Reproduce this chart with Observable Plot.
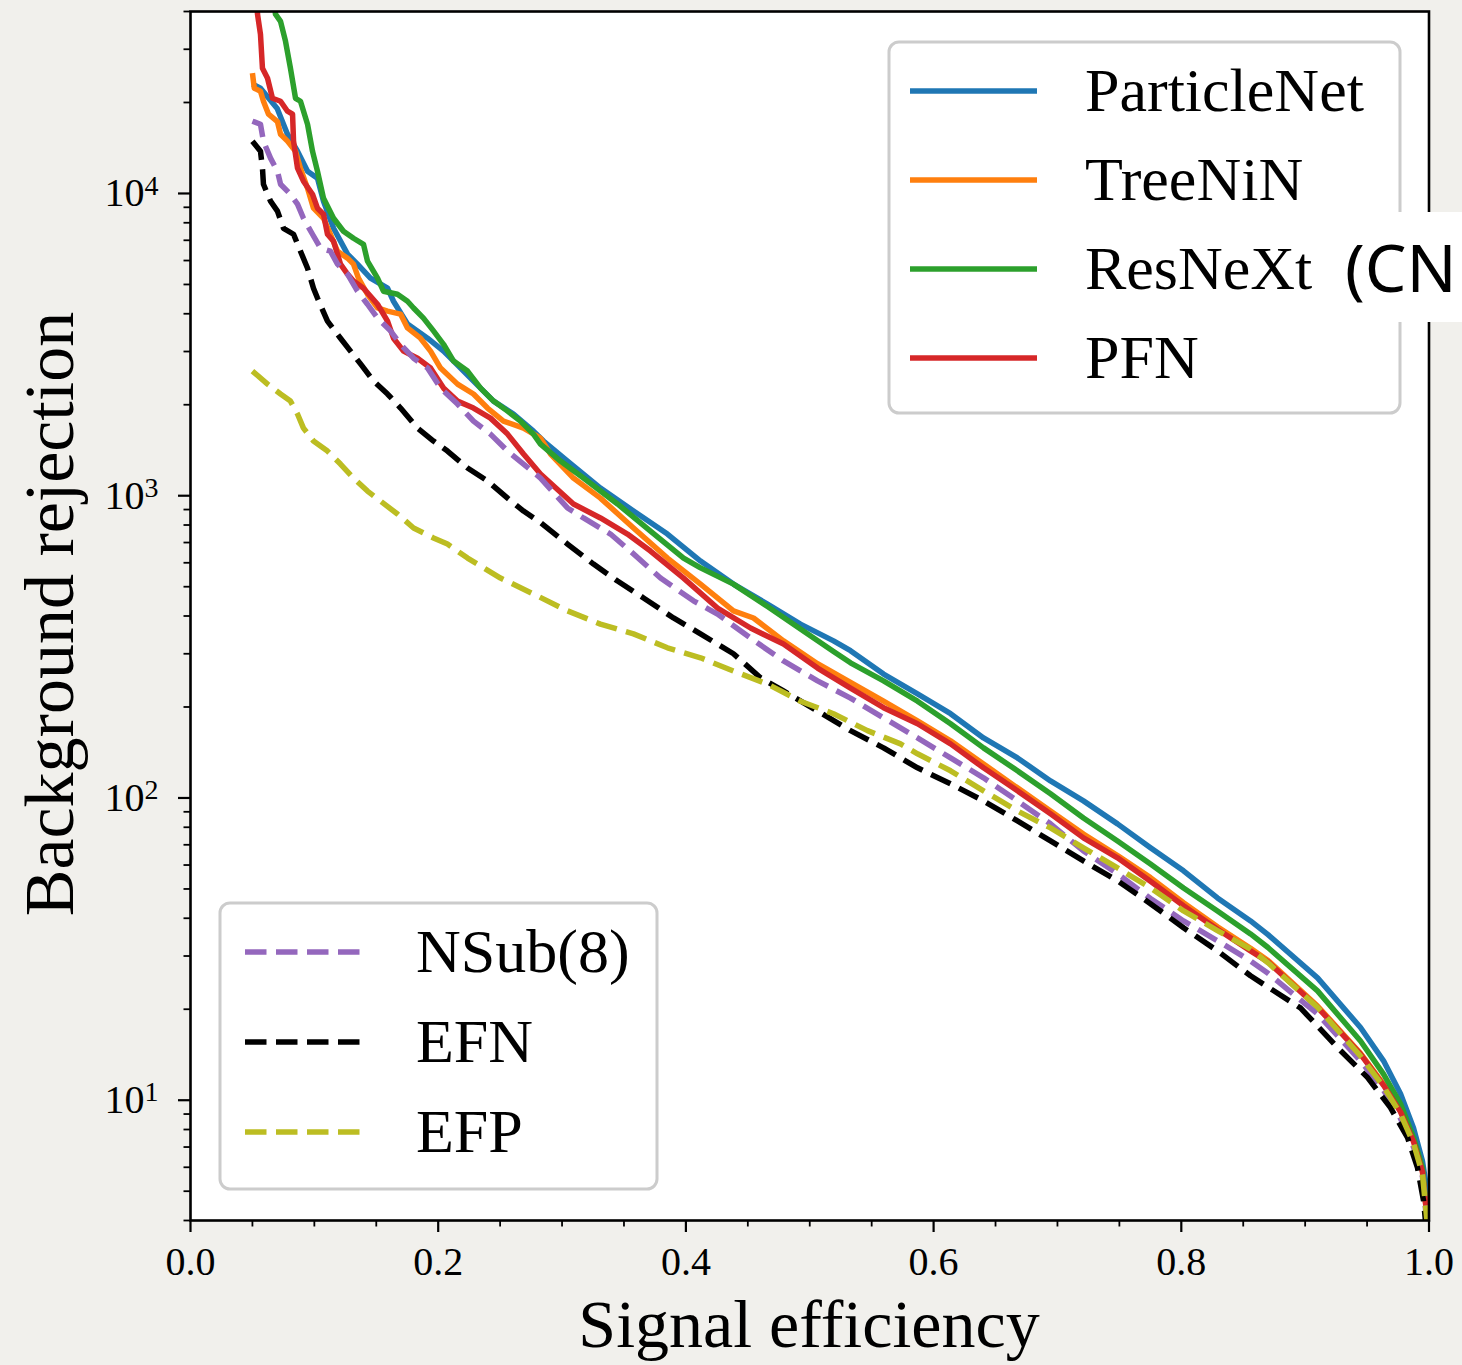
<!DOCTYPE html>
<html>
<head>
<meta charset="utf-8">
<script src="https://cdn.jsdelivr.net/npm/d3@7"></script>
<script src="https://cdn.jsdelivr.net/npm/@observablehq/plot@0.6"></script>
<style>
  html, body { margin: 0; padding: 0; background: #f1f0ec; }
  #chart { position: relative; width: 1462px; height: 1365px; }
  #chart svg { display: block; }
</style>
</head>
<body>
<div id="chart"></div>
<script>
// ---- Data: [signal efficiency, background rejection] ----
const particleNet = [[0.05,23000],[0.0565,22300],[0.070,19100],[0.0783,15700],[0.0864,13800],[0.0945,11850],[0.1025,11240],[0.1074,9430],[0.1155,7670],[0.1268,6300],[0.1348,5840],[0.1453,5250],[0.1591,4860],[0.1639,4400],[0.1752,3700],[0.1914,3320],[0.2043,3010],[0.2124,2790],[0.2285,2395],[0.2447,2056],[0.2608,1863],[0.2769,1636],[0.285,1517],[0.3044,1302],[0.331,1060],[0.3577,890],[0.3851,747],[0.4118,608],[0.4384,510],[0.4659,438],[0.4925,376],[0.5192,331],[0.5329,307],[0.5596,257],[0.587,221],[0.6137,190],[0.6403,158],[0.6677,135.7],[0.6944,113.9],[0.721,97.8],[0.7485,82.1],[0.7751,68.4],[0.8018,57.4],[0.8292,46.7],[0.8559,39.2],[0.87,35.3],[0.91,25.4],[0.9447,17.4],[0.9633,13.5],[0.977,10.5],[0.9875,8.1],[0.9947,6.3],[0.9988,4.9],[1.0,3.5]];
const treeNiN = [[0.05,25000],[0.0515,22300],[0.0565,21800],[0.0589,20200],[0.063,18300],[0.0702,17300],[0.0727,15700],[0.0783,14900],[0.0848,13800],[0.0888,12100],[0.0945,10400],[0.0993,8940],[0.1074,8280],[0.113,7330],[0.1187,6440],[0.1268,6110],[0.1316,5840],[0.1356,5250],[0.1429,4640],[0.151,4180],[0.1591,4080],[0.1696,3990],[0.1752,3590],[0.1857,3320],[0.1938,3010],[0.2019,2645],[0.2156,2340],[0.2285,2170],[0.2398,1950],[0.2527,1766],[0.2689,1674],[0.2826,1551],[0.2907,1374],[0.3092,1144],[0.331,982],[0.3577,782],[0.3851,622],[0.4118,510],[0.4384,416],[0.4546,394],[0.4788,331],[0.5063,278],[0.5329,241],[0.5596,209],[0.587,180],[0.6137,154.5],[0.6403,129.6],[0.6677,108],[0.6944,90.6],[0.721,76.0],[0.7485,64.5],[0.7751,54.5],[0.8018,45],[0.8292,37.5],[0.8559,31.8],[0.87,29],[0.91,20.5],[0.9447,14.3],[0.9633,11.3],[0.977,9.23],[0.9875,7.35],[0.9947,5.85],[1.0,3.5]];
const resNeXt = [[0.06,80000],[0.0686,39200],[0.0727,37100],[0.0767,31900],[0.0807,25960],[0.0848,20650],[0.0888,20190],[0.0945,16950],[0.0985,13800],[0.1025,11850],[0.1074,9640],[0.1155,8280],[0.1235,7500],[0.1316,7110],[0.1397,6790],[0.1429,5970],[0.151,5250],[0.1558,4750],[0.1671,4640],[0.1752,4400],[0.1801,4180],[0.1881,3870],[0.1962,3510],[0.2043,3170],[0.2124,2790],[0.2237,2585],[0.2342,2270],[0.2447,2056],[0.256,1905],[0.2664,1766],[0.2769,1599],[0.2826,1482],[0.2987,1302],[0.3173,1144],[0.3448,939],[0.3714,764],[0.3981,622],[0.4118,577],[0.4384,510],[0.4659,430],[0.4925,362],[0.5192,305],[0.5329,280],[0.5596,244],[0.587,209],[0.6137,176],[0.6403,146.5],[0.6677,123],[0.6944,103.2],[0.721,85.9],[0.7485,72.1],[0.7751,60.5],[0.8018,50.4],[0.8292,42.3],[0.8559,35.5],[0.87,32],[0.91,23.0],[0.9447,15.7],[0.9633,12.2],[0.977,9.73],[0.9875,7.52],[0.9947,5.98],[1.0,3.5]];
const pfn = [[0.051,70000],[0.0541,39200],[0.0565,33600],[0.0581,25960],[0.0622,24060],[0.0662,20650],[0.0727,20190],[0.0783,18710],[0.0824,18290],[0.0832,14890],[0.0864,12130],[0.0912,10980],[0.0985,9940],[0.1025,8940],[0.1074,8540],[0.1106,7330],[0.1155,6950],[0.1211,5840],[0.1268,5410],[0.1316,5130],[0.1397,4860],[0.151,4300],[0.1591,3780],[0.1639,3320],[0.172,3010],[0.1833,2850],[0.1938,2645],[0.2043,2270],[0.2156,2056],[0.2285,1950],[0.2422,1806],[0.256,1599],[0.2689,1374],[0.2826,1180],[0.3092,939],[0.331,844],[0.3528,747],[0.3714,656],[0.3981,534],[0.4255,425],[0.4522,365],[0.4788,323],[0.5063,269],[0.5329,231],[0.5596,199],[0.587,176],[0.6137,151],[0.6403,125.8],[0.6677,105.6],[0.6944,88.6],[0.721,73.8],[0.7485,63.4],[0.7751,53],[0.8018,44],[0.8292,36.8],[0.8559,31.2],[0.87,28.7],[0.91,20.3],[0.9447,14.2],[0.9633,11.2],[0.977,9.15],[0.9875,7.3],[0.9947,5.8],[1.0,3.5]];
const nsub8 = [[0.05,17340],[0.0565,16950],[0.0589,14890],[0.0646,13090],[0.0702,11850],[0.0727,10730],[0.0807,9940],[0.0864,9220],[0.0912,8280],[0.0985,7330],[0.105,6590],[0.113,6440],[0.1187,5840],[0.1268,5410],[0.1348,4750],[0.1429,4300],[0.151,3870],[0.1615,3510],[0.1696,3170],[0.1801,2850],[0.1914,2645],[0.2019,2270],[0.2156,2010],[0.2285,1766],[0.2422,1599],[0.256,1405],[0.2689,1273],[0.2826,1144],[0.3044,911],[0.3173,844],[0.3391,747],[0.3577,642],[0.3795,534],[0.4061,449],[0.4255,406],[0.4522,338],[0.4788,284],[0.5063,244],[0.5329,214],[0.5596,184],[0.587,158],[0.6137,135.7],[0.6403,116.6],[0.6677,97.8],[0.6944,82.1],[0.721,66.8],[0.7485,56.1],[0.7751,46.5],[0.8018,39.2],[0.8292,33.7],[0.8559,28.9],[0.87,26.3],[0.91,19.3],[0.9447,13.5],[0.9633,10.8],[0.977,8.7],[0.9875,7.0],[0.9947,5.6],[1.0,3.3]];
const efn = [[0.05,14890],[0.0565,13800],[0.0581,12130],[0.0589,10730],[0.0646,9430],[0.0702,8740],[0.0751,7670],[0.0832,7330],[0.0888,6440],[0.0945,5660],[0.0993,4860],[0.1025,4510],[0.1106,3780],[0.1211,3320],[0.1292,3010],[0.1373,2730],[0.1478,2395],[0.1591,2170],[0.1696,1950],[0.1833,1674],[0.1962,1517],[0.2075,1405],[0.2237,1235],[0.2398,1119],[0.256,982],[0.2689,890],[0.2826,815],[0.3044,692],[0.3254,594],[0.3448,522],[0.3658,459],[0.39,394],[0.4118,349],[0.4384,300],[0.4602,250],[0.4788,226],[0.5063,194],[0.5329,167],[0.5596,146.5],[0.587,125.8],[0.6137,111.4],[0.6403,97.8],[0.6677,84.0],[0.6944,72.1],[0.721,61.9],[0.7485,53.2],[0.7751,44.7],[0.8018,37.2],[0.8292,31.2],[0.8559,25.8],[0.8962,20.2],[0.9285,14.6],[0.9503,11.9],[0.9689,9.45],[0.9827,7.52],[0.9907,5.98],[0.9956,4.65],[1.0,3.0]];
const efp = [[0.05,2585],[0.0622,2340],[0.0727,2170],[0.0807,2056],[0.0864,1863],[0.0912,1674],[0.0993,1517],[0.1106,1405],[0.1211,1273],[0.1316,1144],[0.1429,1036],[0.1534,960],[0.1671,870],[0.1801,782],[0.1962,725],[0.2075,692],[0.2237,622],[0.2317,594],[0.2503,534],[0.2769,473],[0.3044,416],[0.331,376],[0.3577,349],[0.3851,314],[0.4118,291],[0.4384,263],[0.4659,238],[0.4925,209],[0.5192,190],[0.5466,167],[0.5733,151],[0.587,140],[0.6137,123],[0.6403,105.6],[0.6677,90.6],[0.6944,79.6],[0.721,68.4],[0.7485,58.7],[0.7751,50.4],[0.8018,42.3],[0.8292,36.4],[0.8559,31.6],[0.87,28.5],[0.91,20.3],[0.9447,14.0],[0.9633,11.1],[0.977,9.0],[0.9875,7.2],[0.9947,5.7],[1.0,3.4]];

const modelNames = ["ParticleNet", "TreeNiN", "ResNeXt", "PFN", "NSub(8)", "EFN", "EFP"];
const modelColors = ["#1f77b4", "#ff7f0e", "#2ca02c", "#d62728", "#9467bd", "#000000", "#bcbd22"];
const modelDashed = [false, false, false, false, true, true, true];
const modelData = [particleNet, treeNiN, resNeXt, pfn, nsub8, efn, efp];

const xMajorTicks = [0, 0.2, 0.4, 0.6, 0.8, 1.0];
const xMinorTicks = [0.05, 0.1, 0.15, 0.25, 0.3, 0.35, 0.45, 0.5, 0.55, 0.65, 0.7, 0.75, 0.85, 0.9, 0.95];
const yMajorTicks = [10, 100, 1000, 10000];
const yMinorTicks = [4, 5, 6, 7, 8, 9, 20, 30, 40, 50, 60, 70, 80, 90, 200, 300, 400, 500, 600, 700, 800, 900,
                     2000, 3000, 4000, 5000, 6000, 7000, 8000, 9000, 20000, 30000, 40000];

// ---- Build tables ----
const series = modelNames.map((name, i) => ({
  name, color: modelColors[i], dashed: modelDashed[i],
  rows: modelData[i].map(([e, r]) => ({model: name, eff: e, rej: r}))
}));

const DASH = "21.5,9.5";
const LW = 5.5;
const serif = "'Liberation Serif', 'DejaVu Serif', serif";

const lineMarks = series.map(s => Plot.line(s.rows, {
  x: "eff", y: "rej", stroke: s.color, strokeWidth: LW,
  strokeDasharray: s.dashed ? DASH : null,
  strokeLinejoin: "round", strokeLinecap: "butt", clip: true
}));

const chart = Plot.plot({
  width: 1462, height: 1365,
  marginLeft: 190, marginRight: 33.5, marginTop: 11, marginBottom: 145,
  style: {background: "transparent", fontFamily: serif, fontSize: "40px", color: "black", overflow: "visible"},
  x: {domain: [0, 1]},
  y: {type: "log", domain: [4, 40000]},
  marks: [
    Plot.frame({fill: "white", stroke: null}),
    ...lineMarks,
    Plot.axisX({ticks: xMajorTicks, tickSize: 12, tickPadding: 14, strokeWidth: 2.2,
                tickFormat: d => d.toFixed(1), label: null}),
    Plot.axisX({ticks: xMinorTicks, tickSize: 6.5, strokeWidth: 1.8, tickFormat: () => "", label: null}),
    Plot.axisY({ticks: yMajorTicks, tickSize: 12, tickPadding: 20, strokeWidth: 2.2,
                tickFormat: d => `10^${Math.round(Math.log10(d))}`, label: null}),
    Plot.axisY({ticks: yMinorTicks, tickSize: 6.5, strokeWidth: 1.8, tickFormat: () => "", label: null}),
    Plot.frame({stroke: "black", strokeWidth: 2.6})
  ]
});

document.getElementById("chart").appendChild(chart);
const svg = d3.select(chart);

// superscript exponents on the y tick labels
svg.selectAll("text").each(function () {
  const t = d3.select(this);
  const m = /^10\^(\d)$/.exec(t.text());
  if (m) {
    t.text("10");
    t.append("tspan").attr("dy", "-0.42em").attr("font-size", "0.7em").text(m[1]);
  }
});

// ---- Legends ----
function legend(items, box, lineX0, lineX1, textX, y0, step) {
  const g = svg.append("g").attr("text-anchor", "start");
  g.append("rect").attr("x", box[0]).attr("y", box[1]).attr("width", box[2]).attr("height", box[3])
    .attr("rx", 10).attr("fill", "white").attr("fill-opacity", 0.9)
    .attr("stroke", "#cccccc").attr("stroke-width", 3);
  items.forEach((s, i) => {
    const y = y0 + i * step;
    g.append("line").attr("x1", lineX0).attr("x2", lineX1).attr("y1", y).attr("y2", y)
      .attr("stroke", s.color).attr("stroke-width", LW)
      .attr("stroke-dasharray", s.dashed ? DASH : null);
    g.append("text").attr("x", textX).attr("y", y).attr("dy", "0.33em").attr("text-anchor", "start")
      .attr("font-family", serif).attr("font-size", 62).attr("fill", "black").text(s.name);
  });
}
legend(series.slice(0, 4), [889, 42, 511, 371], 910, 1037, 1085, 91, 89);
legend(series.slice(4), [220, 903, 437, 286], 245, 363, 416, 952, 90);

// ---- Axis titles ----
svg.append("text").attr("x", 809).attr("y", 1347).attr("text-anchor", "middle")
  .attr("font-family", serif).attr("font-size", 68).attr("fill", "black").text("Signal efficiency");
svg.append("text").attr("transform", "translate(73,614) rotate(-90)").attr("text-anchor", "middle")
  .attr("font-family", serif).attr("font-size", 70).attr("fill", "black").text("Background rejection");

// ---- Overlapping caption fragment at the right edge ----
svg.append("rect").attr("x", 1332).attr("y", 212).attr("width", 130).attr("height", 110).attr("fill", "white");
svg.append("text").attr("x", 1345).attr("y", 292).attr("text-anchor", "start")
  .attr("font-family", "'Noto Sans', sans-serif")
  .attr("font-weight", 400).attr("font-size", 66).attr("fill", "black").text("(CN");
</script>
</body>
</html>
